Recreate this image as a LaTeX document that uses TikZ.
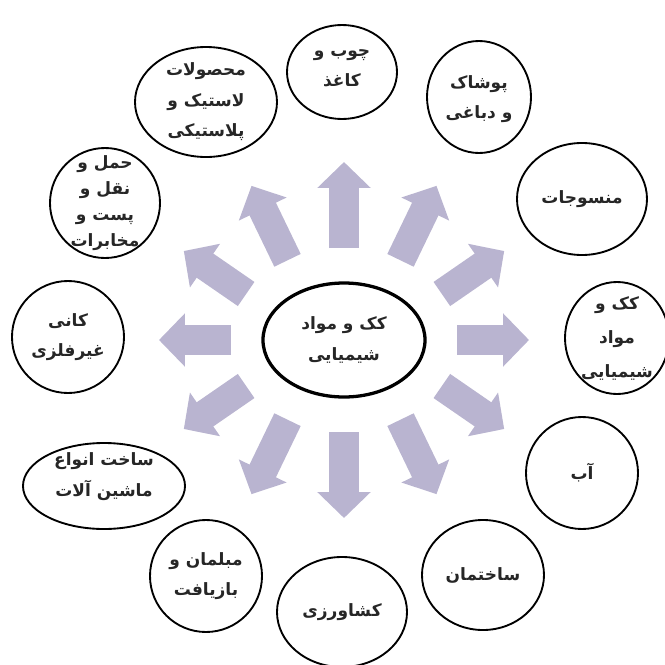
\documentclass[tikz,border=0pt]{standalone}
\usepackage{fontspec}
\usetikzlibrary{shapes.geometric,arrows.meta,calc}
\TeXXeTstate=1
\newfontfamily\arabicfont[Script=Arabic]{DejaVu Sans}
\definecolor{spokefill}{RGB}{185,180,208}
\tikzset{
  sector/.style={ellipse, draw=black, line width=1.6pt, inner sep=0pt},
  hub/.style={sector, line width=2.8pt},
  spoke/.style={draw=spokefill, line width=25pt, -{Triangle[width=44pt,length=22pt]}},
  every label/.style={align=center, text=black!85,
    font=\arabicfont\bfseries\fontsize{14.5}{26}\selectfont}
}
\begin{document}
\begin{tikzpicture}[x=0.03cm, y=-0.03cm]
  \useasboundingbox (0,0) rectangle (664,665);
  \node[hub, minimum width=4.86cm, minimum height=3.42cm,
    label={center:\beginR کک و مواد\endR\\\beginR شیمیایی\endR}] (core) at (344,340) {};
  \foreach \a in {0,30,...,330}
    \draw[spoke] ($(core.center)+(\a:113 and 92)$) -- ($(core.center)+(\a:185 and 178)$);
  \node[sector, minimum width=3.3cm, minimum height=2.82cm,
    label={[yshift=3pt]center:\beginR چوب و\endR\\\beginR کاغذ\endR}] (wood) at (342,72) {};
  \node[sector, minimum width=3.12cm, minimum height=3.36cm,
    label={[yshift=-2pt]center:\beginR پوشاک\endR\\\beginR و دباغی\endR}] (leather) at (479,97) {};
  \node[sector, minimum width=3.9cm, minimum height=3.36cm,
    label={center:\beginR منسوجات\endR}] (textile) at (582,199) {};
  \node[sector, minimum width=3.12cm, minimum height=3.36cm,
    label={[font=\arabicfont\bfseries\fontsize{14.5}{29}\selectfont]center:\beginR کک و\endR\\\beginR مواد\endR\\\beginR شیمیایی\endR}] (chem) at (617,338) {};
  \node[sector, minimum width=3.36cm, minimum height=3.36cm,
    label={center:\beginR آب\endR}] (water) at (582,473) {};
  \node[sector, minimum width=3.66cm, minimum height=3.3cm,
    label={center:\beginR ساختمان\endR}] (building) at (483,575) {};
  \node[sector, minimum width=3.9cm, minimum height=3.3cm,
    label={center:\beginR کشاورزی\endR}] (farming) at (342,612) {};
  \node[sector, minimum width=3.36cm, minimum height=3.36cm,
    label={center:\beginR مبلمان و\endR\\\beginR بازیافت\endR}] (furniture) at (206,576) {};
  \node[sector, minimum width=4.86cm, minimum height=2.58cm,
    label={[yshift=8pt]center:\beginR ساخت انواع\endR\\\beginR ماشین آلات\endR}] (machinery) at (104,486) {};
  \node[sector, minimum width=3.36cm, minimum height=3.36cm,
    label={center:\beginR کانی\endR\\\beginR غیرفلزی\endR}] (mineral) at (68,337) {};
  \node[sector, minimum width=3.3cm, minimum height=3.3cm,
    label={[font=\arabicfont\bfseries\fontsize{14.5}{22}\selectfont]center:\beginR حمل و\endR\\\beginR نقل و\endR\\\beginR پست و\endR\\\beginR مخابرات\endR}] (transport) at (105,203) {};
  \node[sector, minimum width=4.26cm, minimum height=3.3cm,
    label={center:\beginR محصولات\endR\\\beginR لاستیک و\endR\\\beginR پلاستیکی\endR}] (rubber) at (206,102) {};
\end{tikzpicture}
\end{document}
